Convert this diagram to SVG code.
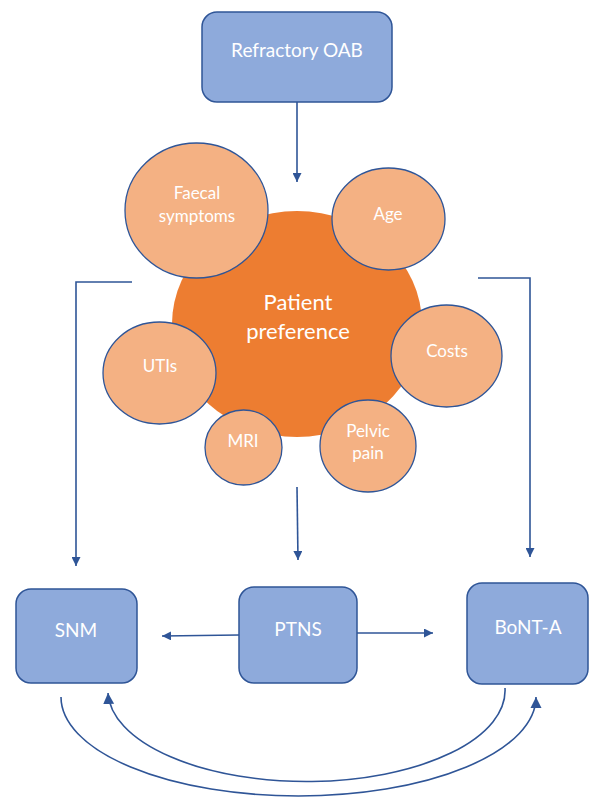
<svg xmlns="http://www.w3.org/2000/svg" width="589" height="798" viewBox="0 0 589 798">
<style>
.box{fill:#8eaadb;stroke:#2f5597;stroke-width:1.5}
.big{fill:#ed7d31}
.sm{fill:#f4b183;stroke:#2f5597;stroke-width:1.3}
.t{font-family:Lato,"Open Sans",sans-serif;fill:#ffffff;text-anchor:middle}
.tb{font-size:19px}
.tc{font-size:17px}
.tp{font-size:22px}
.c{fill:none;stroke:#2f5597;stroke-width:1.6}
</style>
<defs>
<marker id="ah" markerUnits="userSpaceOnUse" viewBox="0 0 10 10" refX="10" refY="5" markerWidth="9" markerHeight="9" orient="auto">
<path d="M0,0 L10,5 L0,10 z" fill="#2f5597"/>
</marker>
<marker id="ahl" markerUnits="userSpaceOnUse" viewBox="0 0 10 10" refX="10" refY="5" markerWidth="11" markerHeight="12" orient="auto">
<path d="M0,0 L10,5 L0,10 z" fill="#2f5597"/>
</marker>
</defs>
<g id="connectors">
<path class="c" d="M297,102 L297,182" marker-end="url(#ah)"/>
<path class="c" d="M297,487 L298,560" marker-end="url(#ah)"/>
<path class="c" d="M132,282 L76,282 L76,566" marker-end="url(#ah)"/>
<path class="c" d="M478,278 L530,278 L530,557" marker-end="url(#ah)"/>
<path class="c" d="M239,635 L162,636" marker-end="url(#ah)"/>
<path class="c" d="M357,633 L433,633" marker-end="url(#ah)"/>
<path class="c" d="M61,697 A237.5,99 0 0 0 536,697" marker-end="url(#ahl)"/>
<path class="c" d="M505,688 A198.5,91 0 0 1 108,693" marker-end="url(#ahl)"/>
</g>
<g id="refractory-oab">
<rect class="box" x="202" y="12" width="190" height="90" rx="15"/>
<text class="t tb" x="297" y="57">Refractory OAB</text>
</g>
<g id="patient-preference">
<ellipse class="big" cx="297" cy="324" rx="125" ry="113"/>
<text class="t tp" x="298" y="310">Patient</text>
<text class="t tp" x="298" y="339">preference</text>
</g>
<g id="faecal-symptoms">
<ellipse class="sm" cx="196.5" cy="210.5" rx="71.5" ry="67.5"/>
<text class="t tc" x="197" y="199">Faecal</text>
<text class="t tc" x="197" y="222">symptoms</text>
</g>
<g id="age">
<ellipse class="sm" cx="388.5" cy="219" rx="56.5" ry="51"/>
<text class="t tc" x="388" y="220">Age</text>
</g>
<g id="costs">
<ellipse class="sm" cx="446.5" cy="356" rx="55.5" ry="51"/>
<text class="t tc" x="447" y="357">Costs</text>
</g>
<g id="pelvic-pain">
<ellipse class="sm" cx="368" cy="446" rx="48" ry="46"/>
<text class="t tc" x="368" y="437">Pelvic</text>
<text class="t tc" x="368" y="459">pain</text>
</g>
<g id="mri">
<ellipse class="sm" cx="243.5" cy="447.5" rx="38.5" ry="37.5"/>
<text class="t tc" x="243" y="447">MRI</text>
</g>
<g id="utis">
<ellipse class="sm" cx="159.5" cy="373" rx="56.5" ry="51"/>
<text class="t tc" x="160" y="372">UTIs</text>
</g>
<g id="snm">
<rect class="box" x="16" y="589" width="121" height="94" rx="15"/>
<text class="t tb" x="76" y="637">SNM</text>
</g>
<g id="ptns">
<rect class="box" x="239" y="587" width="118" height="96" rx="15"/>
<text class="t tb" x="298" y="636">PTNS</text>
</g>
<g id="bont-a">
<rect class="box" x="467" y="583" width="121" height="101" rx="15"/>
<text class="t tb" x="528" y="634">BoNT-A</text>
</g>
</svg>
